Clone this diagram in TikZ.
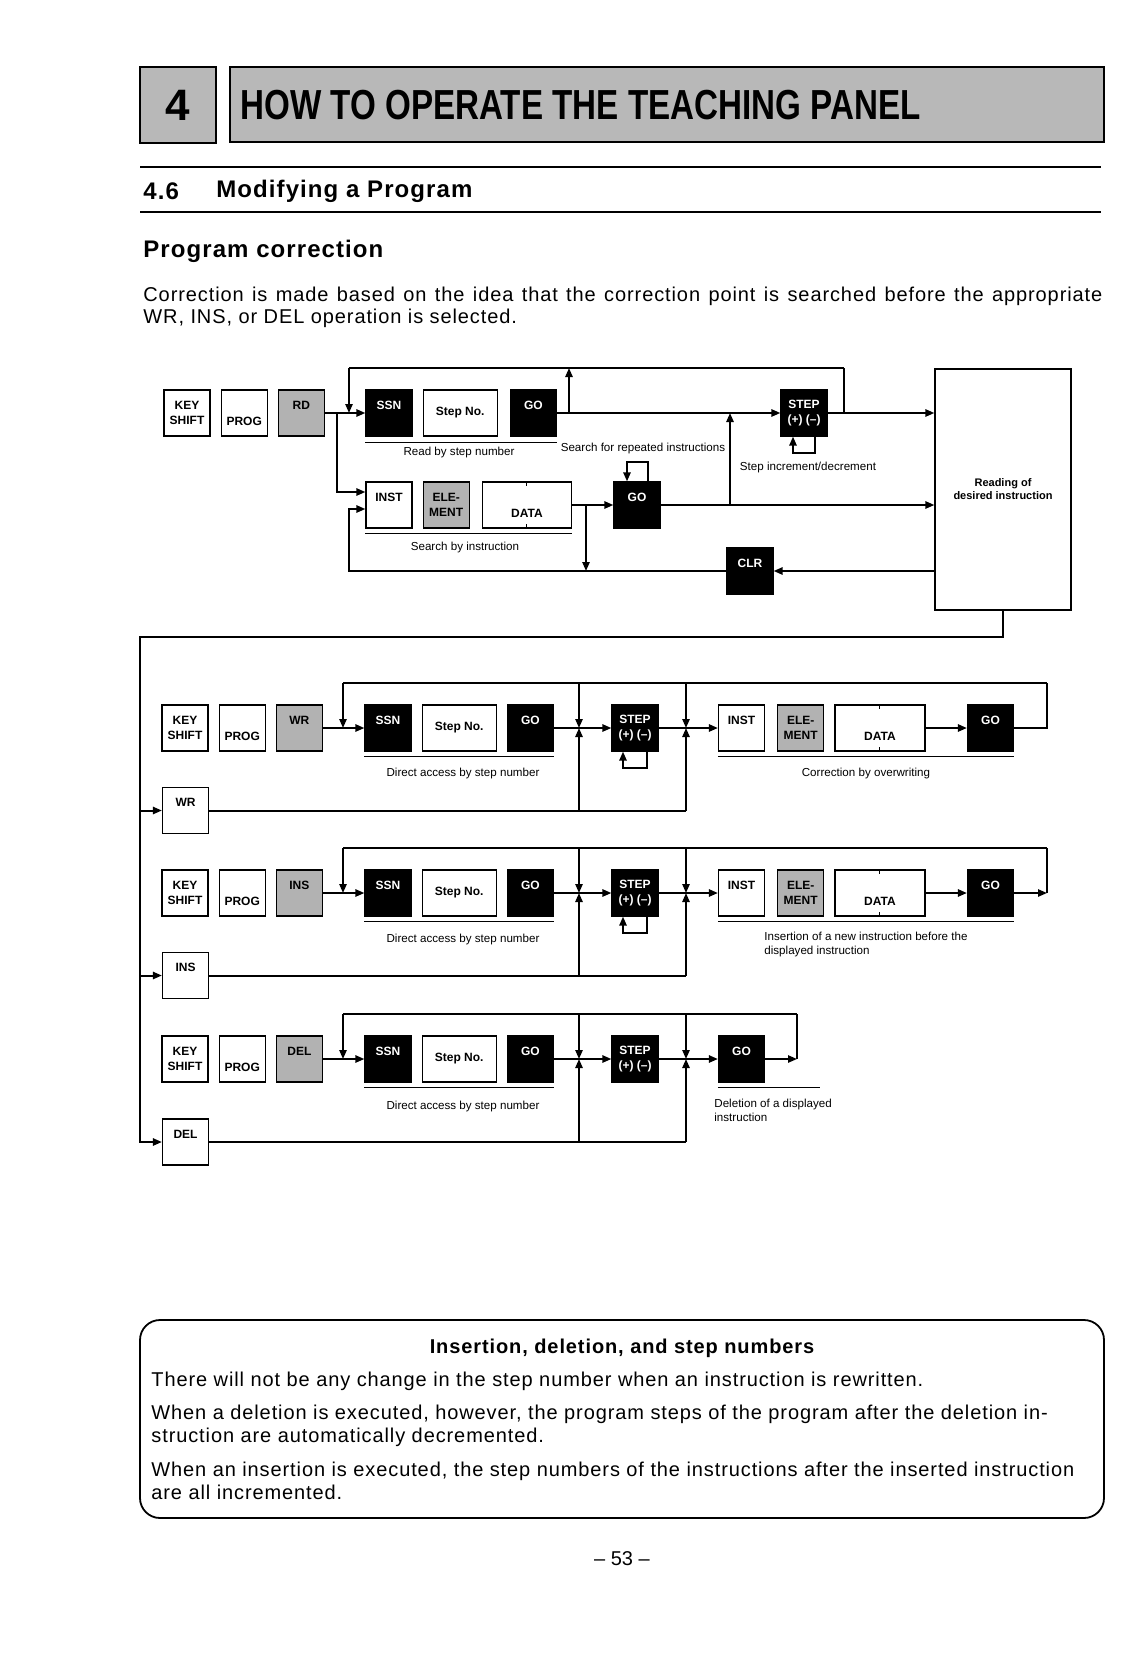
\documentclass[tikz,border=0pt]{standalone}
\usepackage{fontspec}
\setmainfont{Liberation Sans}
\usetikzlibrary{arrows.meta,positioning,calc}

\newcommand{\keyup}[1]{\raisebox{2pt}[0pt][0pt]{#1}}
\newcommand{\keydown}[1]{\raisebox{-6pt}[0pt][0pt]{#1}}
\newcommand{\spaced}{\addfontfeatures{LetterSpace=4.5}}

\begin{document}
\begin{tikzpicture}[x=0.5pt, y=-0.5pt,
        node distance=5pt,
        key/.style={rectangle, draw=black, line width=0.6pt, fill=white, minimum width=23pt, minimum height=23pt, inner sep=0pt, align=center, font=\fontsize{6}{7.5}\selectfont\bfseries},
        darkkey/.style={key, fill=black, text=white},
        greykey/.style={key, fill=black!30},
        wire/.style={line width=1pt},
        arrow/.style={line width=1pt, -{Triangle[length=4.5pt,width=3.6pt]}},
        uline/.style={line width=0.6pt},
        tick/.style={line width=0.5pt},
        captxt/.style={inner sep=0pt, font=\fontsize{5.8}{7}\selectfont},
        head/.style={anchor=west, inner sep=0pt, font=\fontsize{12}{14}\selectfont\bfseries\spaced},
        body/.style={anchor=west, inner sep=0pt, align=left, font=\fontsize{10}{11.5}\selectfont\spaced},
        rule/.style={line width=1.4pt}
    ]
    \useasboundingbox (0,0) rectangle (1134,1653);

    % Header
    \node[draw, line width=1.2pt, fill=black!28, minimum width=38pt, minimum height=38pt, inner sep=0pt, font=\fontsize{22}{22}\selectfont\bfseries] (chapno) at (178,105) {4};
    \node[draw, line width=1.2pt, fill=black!28, minimum width=437pt, minimum height=37.5pt, inner sep=0pt] (chapbox) at (667,104.5) {};
    \node[anchor=west, inner sep=0pt, font=\fontsize{21}{21}\selectfont\bfseries] (chaptitle) at (240,105) {\scalebox{0.79}[1]{HOW TO OPERATE THE TEACHING PANEL}};
    \draw[rule] (140,167) -- (1101,167);
    \draw[rule] (140,212) -- (1101,212);
    \node[head] (secno) at (143,191) {4.6};
    \node[head] (sectitle) at (216,191) {Modifying a Program};
    \node[head] (subtitle) at (143,251) {Program correction};
    \node[body] (intro1) at (143,296) {\makebox[479.5pt][s]{Correction is made based on the idea that the correction point is searched before the appropriate}};
    \node[body] (intro2) at (143,318) {WR, INS, or DEL operation is selected.};

    % Read
    \node[key] (rdkey) at (187,413) {KEY\\SHIFT};
    \node[key, right=of rdkey] (rdprog) {\keydown{PROG}};
    \node[greykey, right=of rdprog] (rd) {\keyup{RD}};
    \node[darkkey] (rdssn) at (389,413) {\keyup{SSN}};
    \node[key, minimum width=37pt, right=of rdssn] (rdstepno) {Step No.};
    \node[darkkey, right=6pt of rdstepno] (rdgo) {\keyup{GO}};
    \node[darkkey] (rdstep) at (804,413) {STEP\\(+) (--)};
    \node[key] (rdinst) at (389,505) {\keyup{INST}};
    \node[greykey, right=of rdinst] (rdelem) {ELE-\\MENT};
    \node[key, minimum width=44.5pt, right=6pt of rdelem] (rddata) {\keydown{DATA}};
    \node[darkkey] (rdgo2) at (637,505) {\keyup{GO}};
    \node[darkkey] (clr) at (750,571) {\keyup{CLR}};
    \node[draw, line width=0.6pt, minimum width=68pt, minimum height=120.5pt, align=center, font=\fontsize{5.5}{6.5}\selectfont\bfseries] (reading) at (1003,489.5) {Reading of\\desired instruction};

    \coordinate (rdtopl) at (349,368);
    \coordinate (rdtopm) at (569,368);
    \coordinate (rdtopr) at (844,368);
    \coordinate (rdfork) at (337,413);
    \coordinate (rdbotl) at (349,571);
    \coordinate (rddrop) at (586,505);
    \coordinate (rdrise) at (730,505);

    \draw[arrow] (rd) -- (rdssn);
    \draw[wire] (rdtopr) -- (rdtopl);
    \draw[arrow] (rdtopl) -- (rdtopl |- rdssn);
    \draw[arrow] (rdgo) -- (rdstep);
    \draw[arrow] (rdtopm |- rdgo) -- (rdtopm);
    \draw[wire] (rdtopr) -- (rdtopr |- rdstep);
    \draw[arrow] (rdstep) -- (rdstep -| reading.west);
    \draw[arrow] (rdfork) |- ([yshift=6.5pt]rdinst.west);
    \draw[arrow] (rddata) -- (rdgo2);
    \draw[arrow] (rdgo2) -- (rdgo2 -| reading.west);
    \draw[arrow] (rdrise) -- (rdrise |- rdstep);
    \draw[arrow] (rddrop) -- (rddrop |- rdbotl);
    \draw[arrow] (reading.west |- clr) -- (clr);
    \draw[arrow] (clr.west) -- (rdbotl) |- ([yshift=-2pt]rdinst.west);
    \draw[arrow] ([xshift=5.5pt]rdgo2.north) -- ++(0,-19) -| ([xshift=-5pt]rdgo2.north);
    \draw[arrow] ([xshift=5.5pt]rdstep.south) -- ++(0,16) -| ([xshift=-5.5pt]rdstep.south);
    \draw[tick] (rddata.north) -- ++(0,5);
    \draw[tick] (rddata.south) -- ++(0,-5);

    \draw[uline] ([yshift=-3pt]rdssn.south west) -- ([yshift=-3pt]rdgo.south east);
    \node[captxt] (rdcap) at (459,452) {Read by step number};
    \node[captxt] (rptcap) at (643,448) {Search for repeated instructions};
    \node[captxt] (stepcap) at (808,467) {Step increment/decrement};
    \draw[uline] ([yshift=-2.5pt]rdinst.south west) -- ([yshift=-2.5pt]rddata.south east);
    \node[captxt] (instcap) at (465,547) {Search by instruction};

    % Write
    \node[key] (wrkey) at (185,728) {KEY\\SHIFT};
    \node[key, right=of wrkey] (wrprog) {\keydown{PROG}};
    \node[greykey, right=of wrprog] (wr) {\keyup{WR}};
    \node[darkkey] (wrssn) at (388,728) {\keyup{SSN}};
    \node[key, minimum width=37pt, right=of wrssn] (wrstepno) {Step No.};
    \node[darkkey, right=of wrstepno] (wrgo) {\keyup{GO}};
    \node[darkkey] (wrstep) at (635,728) {STEP\\(+) (--)};
    \node[key] (wrinst) at (741.5,728) {\keyup{INST}};
    \node[greykey, right=6pt of wrinst] (wrelem) {ELE-\\MENT};
    \node[key, minimum width=45pt, right=of wrelem] (wrdata) {\keydown{DATA}};
    \node[darkkey] (wrgo2) at (990.5,728) {\keyup{GO}};
    \node[key] (wrbox) at (185.5,810.5) {\keyup{WR}};

    \coordinate (wrtopl) at (343,683);
    \coordinate (wrtopm) at (579,683);
    \coordinate (wrtopn) at (686,683);
    \coordinate (wrtopr) at (1047,683);

    \draw[wire] (wrtopr) -- (wrtopl);
    \draw[wire] (wrgo2) -- (wrgo2 -| wrtopr) -- (wrtopr);
    \draw[arrow] (wrtopl) -- (wrtopl |- wrssn);
    \draw[arrow] (wrtopm) -- (wrtopm |- wrstep);
    \draw[arrow] (wrtopn) -- (wrtopn |- wrstep);
    \draw[wire] (wrbox) -- (wrbox -| wrtopn);
    \draw[arrow] (wrbox -| wrtopm) -- (wrtopm |- wrstep);
    \draw[arrow] (wrbox -| wrtopn) -- (wrtopn |- wrstep);
    \draw[arrow] (wr) -- (wrssn);
    \draw[arrow] (wrgo) -- (wrstep);
    \draw[arrow] (wrstep) -- (wrinst);
    \draw[arrow] (wrdata) -- (wrgo2);
    \draw[arrow] ([xshift=6pt]wrstep.south) -- ++(0,16) -| ([xshift=-6pt]wrstep.south);
    \draw[tick] (wrdata.north) -- ++(0,5);
    \draw[tick] (wrdata.south) -- ++(0,-5);

    \draw[uline] ([yshift=-2.5pt]wrssn.south west) -- ([yshift=-2.5pt]wrgo.south east);
    \node[captxt] (wrcap) at (463,773) {Direct access by step number};
    \draw[uline] ([yshift=-2.5pt]wrinst.south west) -- ([yshift=-2.5pt]wrgo2.south east);
    \node[captxt] (owcap) at (866,773) {Correction by overwriting};

    % Insert
    \node[key] (inskey) at (185,893) {KEY\\SHIFT};
    \node[key, right=of inskey] (insprog) {\keydown{PROG}};
    \node[greykey, right=of insprog] (ins) {\keyup{INS}};
    \node[darkkey] (insssn) at (388,893) {\keyup{SSN}};
    \node[key, minimum width=37pt, right=of insssn] (insstepno) {Step No.};
    \node[darkkey, right=of insstepno] (insgo) {\keyup{GO}};
    \node[darkkey] (insstep) at (635,893) {STEP\\(+) (--)};
    \node[key] (insinst) at (741.5,893) {\keyup{INST}};
    \node[greykey, right=6pt of insinst] (inselem) {ELE-\\MENT};
    \node[key, minimum width=45pt, right=of inselem] (insdata) {\keydown{DATA}};
    \node[darkkey] (insgo2) at (990.5,893) {\keyup{GO}};
    \node[key] (insbox) at (185.5,975.5) {\keyup{INS}};

    \coordinate (instopl) at (343,848);
    \coordinate (instopm) at (579,848);
    \coordinate (instopn) at (686,848);
    \coordinate (instopr) at (1047,848);

    \draw[wire] (instopr) -- (instopl);
    \draw[arrow] (insgo2) -- (insgo2 -| instopr);
    \draw[wire] (insgo2 -| instopr) -- (instopr);
    \draw[arrow] (instopl) -- (instopl |- insssn);
    \draw[arrow] (instopm) -- (instopm |- insstep);
    \draw[arrow] (instopn) -- (instopn |- insstep);
    \draw[wire] (insbox) -- (insbox -| instopn);
    \draw[arrow] (insbox -| instopm) -- (instopm |- insstep);
    \draw[arrow] (insbox -| instopn) -- (instopn |- insstep);
    \draw[arrow] (ins) -- (insssn);
    \draw[arrow] (insgo) -- (insstep);
    \draw[arrow] (insstep) -- (insinst);
    \draw[arrow] (insdata) -- (insgo2);
    \draw[arrow] ([xshift=6pt]insstep.south) -- ++(0,16) -| ([xshift=-6pt]insstep.south);
    \draw[tick] (insdata.north) -- ++(0,5);
    \draw[tick] (insdata.south) -- ++(0,-5);

    \draw[uline] ([yshift=-2.5pt]insssn.south west) -- ([yshift=-2.5pt]insgo.south east);
    \node[captxt] (inscap) at (463,939) {Direct access by step number};
    \draw[uline] ([yshift=-2.5pt]insinst.south west) -- ([yshift=-2.5pt]insgo2.south east);
    \node[captxt, anchor=west, align=left] (newcap) at (764,944) {Insertion of a new instruction before the\\displayed instruction};

    % Delete
    \node[key] (delkey) at (185,1059) {KEY\\SHIFT};
    \node[key, right=of delkey] (delprog) {\keydown{PROG}};
    \node[greykey, right=of delprog] (del) {\keyup{DEL}};
    \node[darkkey] (delssn) at (388,1059) {\keyup{SSN}};
    \node[key, minimum width=37pt, right=of delssn] (delstepno) {Step No.};
    \node[darkkey, right=of delstepno] (delgo) {\keyup{GO}};
    \node[darkkey] (delstep) at (635,1059) {STEP\\(+) (--)};
    \node[darkkey] (delgo2) at (741.5,1059) {\keyup{GO}};
    \node[key] (delbox) at (185.5,1142) {\keyup{DEL}};

    \coordinate (deltopl) at (343,1014);
    \coordinate (deltopm) at (579,1014);
    \coordinate (deltopn) at (686,1014);
    \coordinate (deltopr) at (797,1014);

    \draw[wire] (deltopr) -- (deltopl);
    \draw[arrow] (delgo2) -- (delgo2 -| deltopr);
    \draw[wire] (delgo2 -| deltopr) -- (deltopr);
    \draw[arrow] (deltopl) -- (deltopl |- delssn);
    \draw[arrow] (deltopm) -- (deltopm |- delstep);
    \draw[arrow] (deltopn) -- (deltopn |- delstep);
    \draw[wire] (delbox) -- (delbox -| deltopn);
    \draw[arrow] (delbox -| deltopm) -- (deltopm |- delstep);
    \draw[arrow] (delbox -| deltopn) -- (deltopn |- delstep);
    \draw[arrow] (del) -- (delssn);
    \draw[arrow] (delgo) -- (delstep);
    \draw[arrow] (delstep) -- (delgo2);

    \draw[uline] ([yshift=-2.5pt]delssn.south west) -- ([yshift=-2.5pt]delgo.south east);
    \node[captxt] (delcap) at (463,1106) {Direct access by step number};
    \draw[uline] ([yshift=-2.5pt]delgo2.south west) -- ([xshift=27.5pt,yshift=-2.5pt]delgo2.south east);
    \node[captxt, anchor=west, align=left] (dispcap) at (714,1110) {Deletion of a displayed\\instruction};

    % Frame from reading box
    \coordinate (frame) at (140,637);
    \draw[arrow] (reading.south) |- (frame) |- (delbox);
    \draw[arrow] (frame |- wrbox) -- (wrbox);
    \draw[arrow] (frame |- insbox) -- (insbox);

    % Note
    \node[draw, line width=0.9pt, rounded corners=10pt, minimum width=482pt, minimum height=99pt] (notebox) at (622,1419) {};
    \node[font=\fontsize{10}{12}\selectfont\bfseries\spaced] (notetitle) at (622,1348) {Insertion, deletion, and step numbers};
    \node[body] (note1) at (151,1381) {There will not be any change in the step number when an instruction is rewritten.};
    \node[body] (note2) at (151,1425.5) {When a deletion is executed, however, the program steps of the program after the deletion in-\\struction are automatically decremented.};
    \node[body] (note3) at (151,1480.5) {When an insertion is executed, the step numbers of the instructions after the inserted instruction\\are all incremented.};
    \node[font=\fontsize{10}{12}\selectfont] (pageno) at (622,1559) {-- 53 --};
\end{tikzpicture}
\end{document}
